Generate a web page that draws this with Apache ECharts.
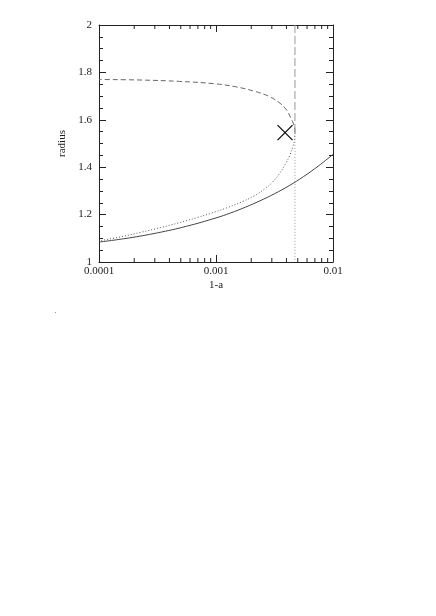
<!DOCTYPE html>
<html>
<head>
<meta charset="utf-8">
<script src="https://cdn.jsdelivr.net/npm/echarts@6/dist/echarts.min.js"></script>
<style>
html,body{margin:0;padding:0;background:#fff;}
#chart{width:436px;height:616px;}
</style>
</head>
<body>
<div id="chart"></div>
<script>
// ---- data ----
const xTickValues = [0.0001, 0.001, 0.01];
const xTickLabels = ['0.0001', '0.001', '0.01'];
const xMinorTicks = [2e-4,3e-4,4e-4,5e-4,6e-4,7e-4,8e-4,9e-4,2e-3,3e-3,4e-3,5e-3,6e-3,7e-3,8e-3,9e-3];
const yRange = [1, 2];

// solid branch
const solidX = [1e-4,1.778e-4,3.162e-4,5.623e-4,1e-3,1.334e-3,1.778e-3,2.371e-3,3.162e-3,4.217e-3,5.623e-3,7.499e-3,1e-2];
const solidR = [1.084,1.101,1.123,1.151,1.186,1.207,1.231,1.258,1.288,1.322,1.361,1.405,1.454];

// upper (dashed) branch, from fold to left edge
const upperX = [4.73e-3,4.70e-3,4.57e-3,4.33e-3,4.02e-3,3.52e-3,2.89e-3,2.15e-3,1.45e-3,9.8e-4,4.9e-4,2.2e-4,1e-4];
const upperR = [1.545,1.565,1.586,1.610,1.641,1.670,1.697,1.720,1.740,1.752,1.762,1.768,1.770];

// lower (dotted) branch, from fold to left edge
const lowerX = [4.73e-3,4.69e-3,4.54e-3,4.27e-3,3.97e-3,3.50e-3,3.08e-3,2.64e-3,2.13e-3,1.685e-3,1.229e-3,8.97e-4,6.85e-4,4.78e-4,3.41e-4,2.26e-4,1.60e-4,1e-4];
const lowerR = [1.545,1.515,1.487,1.450,1.418,1.374,1.340,1.310,1.280,1.255,1.228,1.205,1.187,1.165,1.146,1.125,1.108,1.089];

// vertical line at the fold
const foldX = 4.73e-3;
const foldR = 1.545;

// cross marker
const crossPoint = [3.89e-3, 1.546];

// ---- chart ----
const zip = (xs, ys) => xs.map((x, i) => [x, ys[i]]);
const font = 'Liberation Serif';
const ink = '#222';

const chart = echarts.init(document.getElementById('chart'), null, {renderer: 'canvas'});

const xAxisBase = {
  type: 'log', logBase: 10, min: xTickValues[0], max: xTickValues[xTickValues.length - 1],
  splitLine: {show: false},
  axisLine: {show: true, onZero: false, lineStyle: {color: ink, width: 1}},
  axisTick: {show: true, inside: true, length: 7, lineStyle: {color: ink, width: 1}},
  minorTick: {show: false}
};
const yAxisBase = {
  type: 'value', min: yRange[0], max: yRange[1], interval: 0.2,
  splitLine: {show: false},
  axisLine: {show: true, onZero: false, lineStyle: {color: ink, width: 1}},
  axisTick: {show: true, inside: true, length: 7, lineStyle: {color: ink, width: 1}},
  minorTick: {show: true, splitNumber: 4, length: 4, lineStyle: {color: ink, width: 1}}
};

chart.setOption({
  animation: false,
  backgroundColor: '#fff',
  grid: {left: 99, right: 103, top: 25, bottom: 354, containLabel: false},
  xAxis: [
    Object.assign({}, xAxisBase, {
      position: 'bottom',
      name: '1-a', nameLocation: 'middle', nameGap: 18,
      nameTextStyle: {fontFamily: font, fontSize: 11, color: ink},
      axisLabel: {
        show: true, margin: 4, fontFamily: font, fontSize: 11, color: ink,
        showMinLabel: true, showMaxLabel: true,
        formatter: function (v) {
          const i = xTickValues.findIndex(t => Math.abs(Math.log10(t) - Math.log10(v)) < 1e-6);
          return i >= 0 ? xTickLabels[i] : '';
        }
      }
    }),
    Object.assign({}, xAxisBase, {position: 'top', axisLabel: {show: false}})
  ],
  yAxis: [
    Object.assign({}, yAxisBase, {
      position: 'left',
      name: 'radius', nameLocation: 'middle', nameGap: 29, nameRotate: 90,
      nameTextStyle: {fontFamily: font, fontSize: 11, color: ink},
      axisLabel: {show: true, margin: 7, fontFamily: font, fontSize: 11, color: ink}
    }),
    Object.assign({}, yAxisBase, {position: 'right', axisLabel: {show: false}})
  ],
  series: [
    {
      type: 'line', name: 'solid', data: zip(solidX, solidR), smooth: 0.4,
      showSymbol: false, lineStyle: {color: '#444', width: 1, type: 'solid'}
    },
    {
      type: 'line', name: 'upper', data: zip(upperX, upperR), smooth: 0.4,
      showSymbol: false, lineStyle: {color: '#666', width: 1, type: [5, 3]}
    },
    {
      type: 'line', name: 'lower', data: zip(lowerX, lowerR), smooth: 0.4,
      showSymbol: false, lineStyle: {color: '#555', width: 1, type: [1, 2]}
    },
    {
      type: 'line', name: 'foldUpper', data: [[foldX, yRange[1]], [foldX, foldR]],
      showSymbol: false, lineStyle: {color: '#999', width: 1, type: [8, 3]}
    },
    {
      type: 'line', name: 'foldLower', data: [[foldX, foldR], [foldX, yRange[0]]],
      showSymbol: false, lineStyle: {color: '#999', width: 1, type: [1, 2]}
    },
    {
      type: 'custom', name: 'minorTicks', clip: false,
      data: xMinorTicks.map(v => [v, yRange[0]]),
      renderItem: function (params, api) {
        const v = api.value(0);
        const pb = api.coord([v, yRange[0]]);
        const pt = api.coord([v, yRange[1]]);
        return {
          type: 'group',
          children: [
            {type: 'line', shape: {x1: pb[0], y1: pb[1], x2: pb[0], y2: pb[1] - 4}, style: {stroke: ink, lineWidth: 1}},
            {type: 'line', shape: {x1: pt[0], y1: pt[1], x2: pt[0], y2: pt[1] + 4}, style: {stroke: ink, lineWidth: 1}}
          ]
        };
      }
    },
    {
      type: 'custom', name: 'cross', clip: false,
      data: [crossPoint],
      renderItem: function (params, api) {
        const p = api.coord([api.value(0), api.value(1)]);
        const h = 7.5;
        return {
          type: 'group',
          children: [
            {type: 'line', shape: {x1: p[0] - h, y1: p[1] - h, x2: p[0] + h, y2: p[1] + h}, style: {stroke: '#111', lineWidth: 1.3}},
            {type: 'line', shape: {x1: p[0] - h, y1: p[1] + h, x2: p[0] + h, y2: p[1] - h}, style: {stroke: '#111', lineWidth: 1.3}}
          ]
        };
      }
    }
  ],
  graphic: [
    {type: 'rect', left: 55, top: 312, shape: {width: 1, height: 1}, style: {fill: '#999'}}
  ]
});
</script>
</body>
</html>
